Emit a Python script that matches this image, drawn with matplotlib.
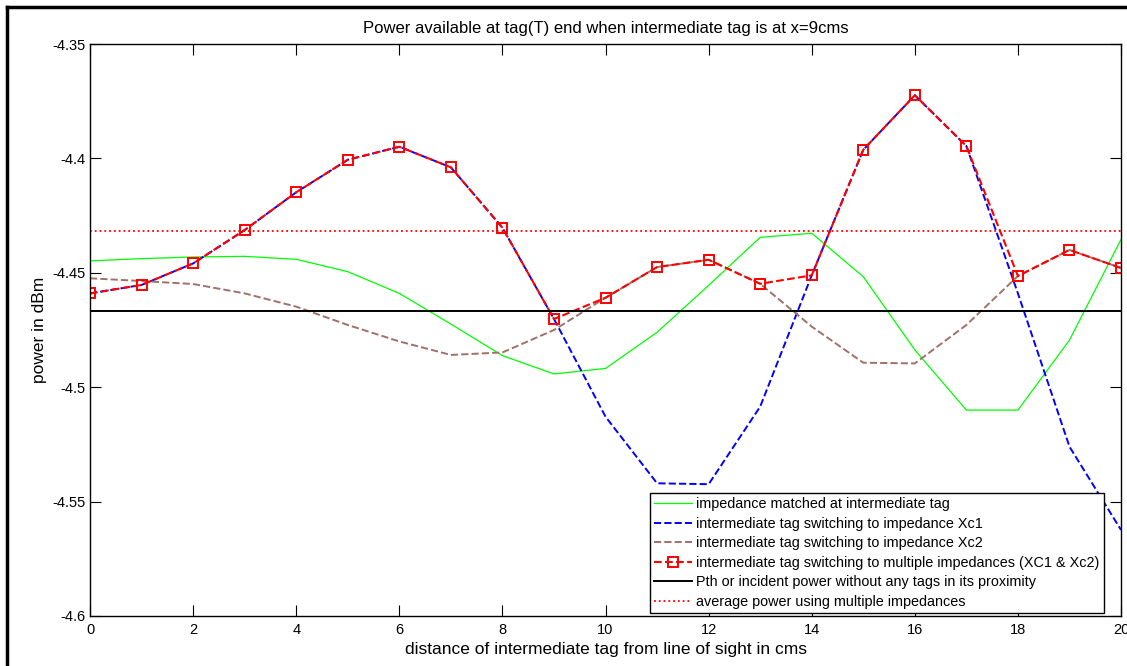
import matplotlib
matplotlib.use("Agg")
import matplotlib.pyplot as plt
from matplotlib.lines import Line2D

plt.rcParams["font.family"] = ["Liberation Sans", "DejaVu Sans"]

# distance of intermediate tag from line of sight (cm)
x_cm = list(range(0, 21))

matched = [-4.4448, -4.4438, -4.4431, -4.4428, -4.4441, -4.4495, -4.4590, -4.4724,
           -4.4862, -4.4942, -4.4918, -4.4760, -4.4555, -4.4345, -4.4327, -4.4517,
           -4.4837, -4.5100, -4.5100, -4.4794, -4.4354]
xc1 = [-4.4590, -4.4553, -4.4459, -4.4313, -4.4148, -4.4006, -4.3949, -4.4039,
       -4.4303, -4.4702, -4.5129, -4.5420, -4.5424, -4.5085, -4.4511, -4.3962,
       -4.3724, -4.3946, -4.4590, -4.5260, -4.5624]
xc2 = [-4.4524, -4.4536, -4.4549, -4.4590, -4.4648, -4.4728, -4.4800, -4.4859,
       -4.4848, -4.4750, -4.4609, -4.4475, -4.4443, -4.4548, -4.4735, -4.4893,
       -4.4896, -4.4728, -4.4514, -4.4400, -4.4479]
multi = [-4.4590, -4.4553, -4.4459, -4.4313, -4.4148, -4.4006, -4.3949, -4.4039,
         -4.4303, -4.4702, -4.4609, -4.4475, -4.4443, -4.4548, -4.4511, -4.3962,
         -4.3724, -4.3946, -4.4514, -4.4400, -4.4479]
pth = -4.4666
avg_multi = -4.4316

labels = [
    "impedance matched at intermediate tag",
    "intermediate tag switching to impedance Xc1",
    "intermediate tag switching to impedance Xc2",
    "intermediate tag switching to multiple impedances (XC1 & Xc2)",
    "Pth or incident power without any tags in its proximity",
    "average power using multiple impedances",
]

fig = plt.figure(figsize=(11.27, 6.66), dpi=100)
ax = fig.add_axes([0.0799, 0.0751, 0.9148, 0.8588])

ax.plot(x_cm, matched, color="#00ff00", linewidth=0.9, label=labels[0])
ax.plot(x_cm, xc1, color="blue", linestyle="--", linewidth=1.4, label=labels[1])
ax.plot(x_cm, xc2, color="#a0706a", linestyle="--", linewidth=1.4, label=labels[2])
ax.plot(x_cm, multi, color="red", linestyle="--", linewidth=1.5, marker="s",
        markersize=7, markerfacecolor="none", markeredgecolor="red",
        markeredgewidth=1.4, label=labels[3])
ax.axhline(pth, color="black", linewidth=1.4, label=labels[4])
ax.axhline(avg_multi, color="red", linestyle=":", linewidth=1.3, label=labels[5])

ax.set_xlim(0, 20)
ax.set_ylim(-4.6, -4.35)
ax.set_xticks(range(0, 21, 2))
ax.set_yticks([-4.6, -4.55, -4.5, -4.45, -4.4, -4.35])
ax.set_yticklabels(["-4.6", "-4.55", "-4.5", "-4.45", "-4.4", "-4.35"])
ax.tick_params(direction="in", length=8, width=0.8, top=True, right=True,
               labelsize=10.5, pad=3)
ax.tick_params(axis="x", pad=5)
for s in ax.spines.values():
    s.set_linewidth(1.0)

ax.set_title("Power available at tag(T) end when intermediate tag is at x=9cms",
             fontsize=12, pad=8)
ax.set_xlabel("distance of intermediate tag from line of sight in cms", fontsize=12.5, labelpad=4)
ax.set_ylabel("power in dBm", fontsize=12.5, labelpad=4)

leg = ax.legend(loc="lower right", bbox_to_anchor=(0.9835, 0.005), fontsize=10.4,
                frameon=True, fancybox=False, edgecolor="black", framealpha=1,
                borderaxespad=0, handlelength=2.6, labelspacing=0.38,
                borderpad=0.3, handletextpad=0.3)
leg.get_frame().set_linewidth(1.0)

# outer frame of the figure window
fig.add_artist(Line2D([7 / 1127, 1.0], [1 - 7 / 666, 1 - 7 / 666], color="black", linewidth=2.5))
fig.add_artist(Line2D([7 / 1127, 7 / 1127], [0.0, 1 - 7 / 666], color="black", linewidth=2.5))

fig.savefig("out.png")
